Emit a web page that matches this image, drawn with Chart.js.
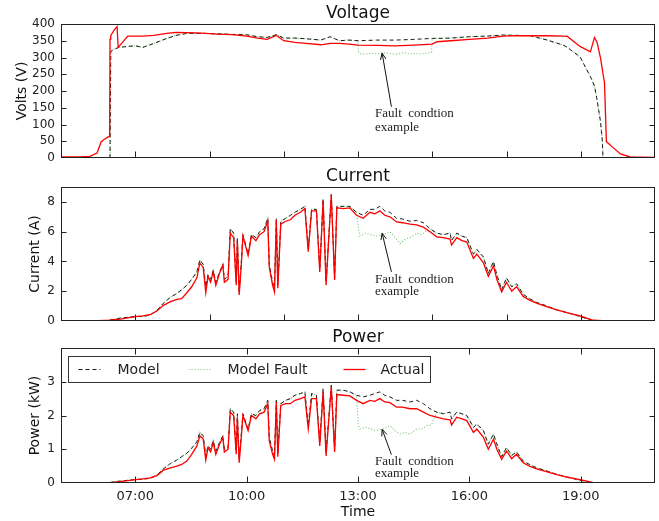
<!DOCTYPE html>
<html>
<head>
<meta charset="utf-8">
<script src="https://cdn.jsdelivr.net/npm/chart.js@4.4.1/dist/chart.umd.min.js"></script>
<style>
  body { margin: 0; background: #fff; }
  #wrap { position: relative; width: 659px; height: 521px; }
  canvas { position: absolute; left: 0; }
</style>
</head>
<body>
<div id="wrap">
  <canvas id="volt" width="659" height="166" style="top:0px"></canvas>
  <canvas id="curr" width="659" height="166" style="top:163px"></canvas>
  <canvas id="pow" width="659" height="197" style="top:324px"></canvas>
</div>
<script>
// ---- data (hours of day on x) ----
const timeV = [5.0, 5.5, 5.78, 5.97, 6.08, 6.16, 6.27, 6.31, 6.32, 6.34,
  6.43, 6.51, 6.54, 6.8, 7.0, 7.2, 7.5, 7.85, 8.1, 8.4,
  8.8, 9.2, 9.6, 10.0, 10.3, 10.55, 10.8, 11.0, 11.3, 11.6,
  12.0, 12.25, 12.5, 12.75, 13.0, 13.5, 14.0, 14.5, 15.0, 15.13,
  15.5, 16.0, 16.5, 16.9, 17.3, 17.64, 18.1, 18.53, 18.64, 18.98,
  19.26, 19.37, 19.44, 19.53, 19.58, 19.6, 19.64, 19.69, 19.84, 20.07,
  20.33, 21.0];
const voltActual = [3, 3, 5, 15, 48, 55, 63, 65, 355, 365,
  382, 392, 330, 364, 364, 364, 366, 372, 375, 374,
  373, 370, 368, 364, 358, 354, 366, 350, 345, 342,
  338, 342, 342, 340, 337, 336, 335, 337, 340, 347,
  350, 354, 358, 364, 365, 365, 365, 364, 363, 333,
  317, 360, 345, 300, 265, 250, 225, 49, 34, 12,
  3, 2];
const voltModel = [0, 0, 0, 0, 0, 0, 0, 0, 0, 318,
  325, 328, 330, 333, 335, 330, 342, 357, 366, 372,
  372, 371, 369, 368, 362, 360, 368, 358, 358, 356,
  352, 362, 350, 352, 350, 352, 352, 354, 357, 357,
  358, 362, 364, 367, 366, 365, 352, 337, 330, 302,
  243, 215, 173, 110, 54, 0, 0, 0, 0, 0,
  0, 0];

const timeIP = [5.0, 5.5, 6.0, 6.3, 6.6, 7.0, 7.2, 7.4, 7.58, 7.76,
  7.95, 8.12, 8.25, 8.39, 8.52, 8.66, 8.74, 8.83, 8.9, 8.96,
  9.03, 9.1, 9.17, 9.27, 9.36, 9.4, 9.5, 9.56, 9.65, 9.72,
  9.75, 9.8, 9.86, 9.9, 10.04, 10.13, 10.25, 10.35, 10.47, 10.57,
  10.61, 10.7, 10.75, 10.8, 10.84, 10.92, 11.05, 11.18, 11.3, 11.45,
  11.57, 11.66, 11.75, 11.88, 11.97, 12.06, 12.14, 12.28, 12.37, 12.43,
  12.6, 12.78, 12.96, 13.14, 13.32, 13.45, 13.59, 13.72, 13.86, 14.04,
  14.2, 14.4, 14.58, 14.76, 14.94, 15.12, 15.3, 15.48, 15.52, 15.66,
  15.8, 15.93, 16.11, 16.2, 16.38, 16.51, 16.65, 16.74, 16.87, 17.0,
  17.14, 17.27, 17.45, 17.62, 17.81, 18.1, 18.35, 18.65, 18.98, 19.34,
  19.7, 20.2, 21.0];
const currActual = [0, 0, 0.02, 0.05, 0.12, 0.3, 0.35, 0.42, 0.67, 1.05,
  1.3, 1.45, 1.5, 1.9, 2.3, 2.9, 3.9, 3.6, 1.9, 3.0,
  2.6, 3.3, 2.4, 3.2, 3.75, 2.6, 2.8, 5.9, 5.6, 2.4,
  5.4, 1.75, 3.9, 5.7, 4.4, 5.7, 5.4, 5.8, 6.0, 6.7,
  3.6, 2.4, 1.95, 6.8, 2.2, 6.5, 6.7, 6.8, 7.1, 7.3,
  7.55, 4.65, 7.4, 7.4, 3.3, 8.1, 2.4, 8.45, 2.75, 7.6,
  7.55, 7.6, 7.1, 6.9, 7.3, 7.2, 7.4, 7.1, 7.0, 6.65,
  6.6, 6.5, 6.45, 6.3, 6.0, 5.65, 5.6, 5.5, 5.1, 5.6,
  5.4, 5.3, 4.2, 4.5, 3.9, 3.0, 3.7, 2.8, 1.95, 2.6,
  2.0, 2.3, 1.65, 1.4, 1.2, 0.95, 0.75, 0.55, 0.35, 0.05,
  0, 0, 0];
const currModel = [0, 0, 0, 0.05, 0.2, 0.3, 0.3, 0.4, 0.7, 1.2,
  1.6, 1.85, 2.1, 2.4, 2.8, 3.3, 4.1, 3.8, 2.3, 3.1,
  2.8, 3.4, 2.6, 3.3, 3.8, 2.8, 3.0, 6.2, 5.9, 2.6,
  5.6, 1.9, 4.1, 5.8, 4.5, 5.8, 5.6, 6.0, 6.2, 6.9,
  3.8, 2.6, 2.2, 6.9, 2.4, 6.7, 6.9, 7.1, 7.3, 7.5,
  7.7, 4.8, 7.5, 7.5, 3.5, 8.2, 2.6, 8.5, 2.9, 7.7,
  7.7, 7.7, 7.3, 7.1, 7.5, 7.5, 7.7, 7.4, 7.3, 6.9,
  6.85, 6.7, 6.75, 6.6, 6.2, 5.9, 5.8, 5.9, 5.4, 5.9,
  5.7, 5.6, 4.5, 4.8, 4.3, 3.2, 4.0, 3.1, 2.1, 2.9,
  2.3, 2.5, 1.8, 1.5, 1.25, 1.0, 0.75, 0.55, 0.3, 0.02,
  0, 0, 0];
const powActual = [0, 0, 0, 0.01, 0.04, 0.1, 0.12, 0.15, 0.22, 0.38,
  0.45, 0.5, 0.55, 0.65, 0.85, 1.1, 1.4, 1.3, 0.68, 1.05,
  0.92, 1.2, 0.85, 1.15, 1.35, 0.92, 1.0, 2.1, 2.0, 0.85,
  1.95, 0.6, 1.4, 2.0, 1.55, 2.0, 1.9, 2.05, 2.1, 2.35,
  1.25, 0.85, 0.7, 2.4, 0.78, 2.3, 2.35, 2.35, 2.45, 2.5,
  2.55, 1.6, 2.5, 2.5, 1.1, 2.7, 0.8, 2.85, 0.92, 2.62,
  2.6, 2.58, 2.45, 2.35, 2.45, 2.42, 2.5, 2.4, 2.38, 2.25,
  2.25, 2.2, 2.2, 2.1, 2.0, 1.95, 1.9, 1.87, 1.72, 1.95,
  1.9, 1.85, 1.5, 1.6, 1.35, 1.0, 1.3, 1.0, 0.7, 0.95,
  0.72, 0.85, 0.6, 0.5, 0.42, 0.33, 0.25, 0.17, 0.1, 0.01,
  0, 0, 0];
const powModel = [0, 0, 0, 0.01, 0.06, 0.1, 0.11, 0.14, 0.23, 0.42,
  0.58, 0.68, 0.78, 0.88, 1.03, 1.22, 1.5, 1.4, 0.8, 1.1,
  1.0, 1.25, 0.95, 1.2, 1.4, 1.0, 1.05, 2.2, 2.1, 0.95,
  2.05, 0.7, 1.5, 2.05, 1.6, 2.05, 2.0, 2.15, 2.2, 2.45,
  1.35, 0.95, 0.8, 2.45, 0.88, 2.35, 2.45, 2.5, 2.6, 2.65,
  2.7, 1.7, 2.65, 2.6, 1.2, 2.8, 0.9, 2.9, 1.0, 2.75,
  2.75, 2.7, 2.6, 2.55, 2.6, 2.65, 2.7, 2.6, 2.55, 2.45,
  2.45, 2.4, 2.45, 2.35, 2.2, 2.1, 2.05, 2.1, 1.9, 2.1,
  2.05, 2.0, 1.65, 1.75, 1.55, 1.15, 1.45, 1.15, 0.78, 1.05,
  0.82, 0.92, 0.65, 0.55, 0.45, 0.35, 0.26, 0.17, 0.08, 0,
  0, 0, 0];

// fault window (Model Fault departs from Model only here)
const faultTimes = [13.01, 13.05, 13.2, 13.35, 13.5, 13.68, 13.86, 14.0, 14.13, 14.27, 14.4, 14.58, 14.72, 14.85, 14.98];
const voltFault = [318, 312, 310, 313, 311, 315, 312, 310, 312, 314, 311, 312, 310, 313, 315];
const currFault = [6.3, 5.7, 5.9, 5.8, 5.7, 5.8, 6.0, 5.6, 5.2, 5.5, 5.6, 5.9, 5.8, 6.1, 6.15];
const powFault = [1.7, 1.6, 1.65, 1.6, 1.55, 1.6, 1.7, 1.55, 1.45, 1.5, 1.45, 1.6, 1.6, 1.7, 1.72];

const voltTicks = [0, 50, 100, 150, 200, 250, 300, 350, 400];
const currTicks = [0, 2, 4, 6, 8];
const powTicks = [0, 1, 2, 3];
const hourTicks = [7, 9, 11, 13, 15, 17, 19];
const labelHours = [7, 10, 13, 16, 19];
const timeLabels = ['07:00', '10:00', '13:00', '16:00', '19:00'];

Chart.defaults.font.family = 'DejaVu Sans';
Chart.defaults.color = '#222';

function pts(t, v) { return t.map((x, i) => ({x: x, y: v[i]})); }
function withFault(t, model, ft, fv) {
  const out = [];
  t.forEach((x, i) => { if (x < ft[0] || x > ft[ft.length - 1]) out.push({x: x, y: model[i]}); });
  ft.forEach((x, i) => out.push({x: x, y: fv[i]}));
  return out.sort((a, b) => a.x - b.x);
}

// frame, inward ticks and the fault annotation
const framePlugin = {
  id: 'frame',
  afterDatasetsDraw(chart, args, o) {
    const {ctx, chartArea: a, scales: {x, y}} = chart;
    const L = Math.round(a.left) + 0.5, R = Math.round(a.right) - 0.5;
    const T = Math.round(a.top) + 0.5, B = Math.round(a.bottom) - 0.5;
    ctx.save();
    ctx.strokeStyle = '#222';
    ctx.lineWidth = 1;
    ctx.strokeRect(L, T, R - L, B - T);
    ctx.beginPath();
    o.yTicks.forEach(v => {
      if (v <= y.min || v >= y.max) return;
      const py = Math.round(y.getPixelForValue(v)) + 0.5;
      ctx.moveTo(L, py); ctx.lineTo(L + 5, py);
      ctx.moveTo(R, py); ctx.lineTo(R - 5, py);
    });
    o.xTicks.forEach(v => {
      const px = Math.round(x.getPixelForValue(v)) + 0.5;
      ctx.moveTo(px, B); ctx.lineTo(px, B - 6);
      if (o.top) { ctx.moveTo(px, T); ctx.lineTo(px, T + 6); }
    });
    ctx.stroke();

    // annotation arrow
    const n = o.note;
    const tx = x.getPixelForValue(n.tip[0]), ty = y.getPixelForValue(n.tip[1]);
    const sx = x.getPixelForValue(n.tail[0]), sy = y.getPixelForValue(n.tail[1]);
    const ang = Math.atan2(ty - sy, tx - sx);
    ctx.beginPath();
    ctx.moveTo(sx, sy); ctx.lineTo(tx, ty);
    ctx.moveTo(tx - 7 * Math.cos(ang - 0.4), ty - 7 * Math.sin(ang - 0.4));
    ctx.lineTo(tx, ty);
    ctx.lineTo(tx - 7 * Math.cos(ang + 0.4), ty - 7 * Math.sin(ang + 0.4));
    ctx.strokeStyle = '#111';
    ctx.stroke();
    ctx.fillStyle = '#222';
    ctx.font = '13px "Liberation Serif"';
    ctx.textBaseline = 'middle';
    ctx.textAlign = 'left';
    const lx = x.getPixelForValue(n.text[0]);
    ctx.fillText('Fault  condtion', lx, y.getPixelForValue(n.text[1]));
    ctx.fillText('example', lx, y.getPixelForValue(n.text[2]));
    ctx.restore();
  }
};

// boxed legend inside the power panel
const boxLegend = {
  id: 'boxLegend',
  afterDraw(chart, args, o) {
    if (!o.show) return;
    const {ctx, chartArea: a} = chart;
    const bx = Math.round(a.left) + 7.5, by = Math.round(a.top) + 8.5, bw = 362, bh = 26;
    ctx.save();
    ctx.fillStyle = '#fff';
    ctx.fillRect(bx, by, bw, bh);
    ctx.strokeStyle = '#333';
    ctx.lineWidth = 1;
    ctx.strokeRect(bx, by, bw, bh);
    const cy = by + bh / 2;
    const items = [[0, 10, 49], [1, 120, 159], [2, 275, 312]];
    ctx.font = '14px "DejaVu Sans"';
    ctx.textBaseline = 'middle';
    items.forEach(([di, s, t]) => {
      const ds = chart.data.datasets[di];
      ctx.beginPath();
      ctx.setLineDash(ds.borderDash || []);
      ctx.strokeStyle = ds.borderColor;
      ctx.lineWidth = ds.borderWidth;
      ctx.moveTo(bx + s, cy); ctx.lineTo(bx + s + 22, cy);
      ctx.stroke();
      ctx.setLineDash([]);
      ctx.fillStyle = '#222';
      ctx.fillText(ds.label, bx + t, cy + 1);
    });
    ctx.restore();
  }
};

function makePanel(id, cfg) {
  return new Chart(document.getElementById(id), {
    type: 'line',
    data: {
      datasets: [
        {label: 'Model', data: cfg.model, borderColor: '#1a1a1a', borderDash: [4, 3], borderWidth: 1, order: 1},
        {label: 'Model Fault', data: cfg.fault, borderColor: '#7cc47c', borderDash: [1, 2], borderWidth: 1.2, order: 2},
        {label: 'Actual', data: cfg.actual, borderColor: '#ff0000', borderWidth: 1.3, order: 0}
      ]
    },
    options: {
      responsive: false,
      animation: false,
      devicePixelRatio: 1,
      layout: {padding: {left: 0, right: 4, top: 0, bottom: 0}},
      elements: {point: {radius: 0}, line: {tension: 0}},
      plugins: {
        legend: {display: false},
        tooltip: {enabled: false},
        title: {display: true, text: cfg.title, fullSize: false, font: {size: 17, weight: 'normal', lineHeight: '20px'}, padding: {top: 4, bottom: 0}, color: '#111'},
        frame: {yTicks: cfg.yTicks, xTicks: cfg.xTicks, top: cfg.topTicks, note: cfg.note},
        boxLegend: {show: cfg.legend}
      },
      scales: {
        x: {
          type: 'linear', min: 5, max: 21,
          grid: {display: false, drawTicks: false}, border: {display: false},
          ticks: {display: cfg.xLabels, autoSkip: false, maxRotation: 0, font: {size: 13}, padding: 6, color: '#222',
            callback: (v, i) => timeLabels[i]},
          afterBuildTicks: s => { s.ticks = (cfg.xLabels ? labelHours : hourTicks).map(v => ({value: v})); },
          afterFit: s => { s.height = cfg.xHeight; },
          title: {display: cfg.xLabels, text: 'Time', font: {size: 14}, padding: {top: 0, bottom: 0}, color: '#111'}
        },
        y: {
          min: 0, max: cfg.yMax,
          grid: {display: false, drawTicks: true, tickLength: 6}, border: {display: false},
          ticks: {autoSkip: false, font: {size: 12}, padding: 0, color: '#222'},
          afterBuildTicks: s => { s.ticks = cfg.yTicks.map(v => ({value: v})); },
          afterFit: s => { s.width = 61; },
          title: {display: true, text: cfg.yTitle, font: {size: 14}, padding: {top: cfg.yTitlePad, bottom: 0}, color: '#111'}
        }
      }
    },
    plugins: [framePlugin, boxLegend]
  });
}

makePanel('volt', {
  title: 'Voltage', yTitle: 'Volts (V)', yTitlePad: 13.5, yMax: 400, yTicks: voltTicks,
  xTicks: hourTicks, xLabels: false, xHeight: 8, topTicks: false, legend: false,
  model: pts(timeV, voltModel), fault: withFault(timeV, voltModel, faultTimes, voltFault), actual: pts(timeV, voltActual),
  note: {tip: [13.65, 313], tail: [13.9, 153], text: [13.46, 134, 92]}
});
makePanel('curr', {
  title: 'Current', yTitle: 'Current (A)', yTitlePad: 26.5, yMax: 9, yTicks: currTicks,
  xTicks: hourTicks, xLabels: false, xHeight: 8, topTicks: false, legend: false,
  model: pts(timeIP, currModel), fault: withFault(timeIP, currModel, faultTimes, currFault), actual: pts(timeIP, currActual),
  note: {tip: [13.65, 5.9], tail: [13.9, 3.3], text: [13.46, 2.75, 1.95]}
});
makePanel('pow', {
  title: 'Power', yTitle: 'Power (kW)', yTitlePad: 26.5, yMax: 4, yTicks: powTicks,
  xTicks: labelHours, xLabels: true, xHeight: 38, topTicks: true, legend: true,
  model: pts(timeIP, powModel), fault: withFault(timeIP, powModel, faultTimes, powFault), actual: pts(timeIP, powActual),
  note: {tip: [13.65, 1.59], tail: [13.9, 0.84], text: [13.46, 0.63, 0.27]}
});
</script>
</body>
</html>
